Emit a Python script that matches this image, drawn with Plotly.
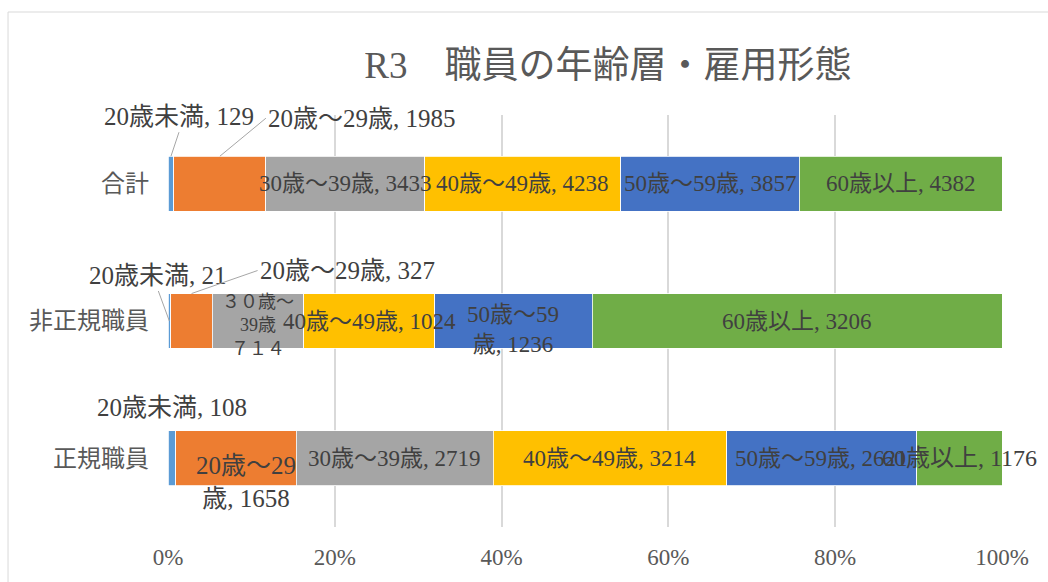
import plotly.graph_objects as go

# ---- data ----
categories = ['正規職員', '非正規職員', '合計']
series_names = ['20歳未満', '20歳～29歳', '30歳～39歳', '40歳～49歳', '50歳～59歳', '60歳以上']
seiki = [108, 1658, 2719, 3214, 2621, 1176]
hiseiki = [21, 327, 714, 1024, 1236, 3206]
goukei = [129, 1985, 3433, 4238, 3857, 4382]
x_tick_values = [0, 20, 40, 60, 80, 100]
x_tick_labels = ['0%', '20%', '40%', '60%', '80%', '100%']
title_text = 'R3\u3000職員の年齢層・雇用形態'

rows = [seiki, hiseiki, goukei]  # same order as categories
colors = ['#5B9BD5', '#ED7D31', '#A5A5A5', '#FFC000', '#4472C4', '#70AD47']

# label text overrides (as wrapped in the original)
text_override = {
    (1, 2): '３０歳～<br>39歳<br>７１４',
    (1, 4): '50歳～59<br>歳, 1236',
    (0, 1): '20歳～29<br>歳, 1658',
}

FONT = "'Liberation Serif', 'Noto Sans CJK JP', serif"
TXT = '#404040'
LEADER = '#A6A6A6'

# label placement styles
place = {
    (2, 0): dict(dy=0.2, arrow=True, ax=8, ay=-24, yanchor='bottom', size=25),
    (2, 1): dict(dy=0.2, arrow=True, ax=46, ay=-38, xanchor='left', size=25),
    (1, 0): dict(dy=0.0, arrow=True, ax=-11, ay=-30, yanchor='bottom', size=25),
    (1, 1): dict(dy=0.2, arrow=True, ax=66, ay=-23, xanchor='left', size=25),
    (1, 2): dict(size=18, yshift=-4),
    (1, 4): dict(yshift=-8),
    (0, 0): dict(dy=0.2, yanchor='bottom', yshift=8, size=25),
    (0, 1): dict(xshift=10, yshift=-24, size=25),
    (0, 5): dict(size=24),
}

fig = go.Figure()
for si, name in enumerate(series_names):
    fig.add_trace(go.Bar(
        y=categories,
        x=[r[si] for r in rows],
        name=name,
        orientation='h',
        marker=dict(color=colors[si], line=dict(color='white', width=0.8)),
        hoverinfo='name+x',
    ))

annotations = []
for ri, row in enumerate(rows):
    total = sum(row)
    cum = 0.0
    for si, v in enumerate(row):
        pct = v / total * 100
        mid = cum + pct / 2
        cum += pct
        txt = text_override.get((ri, si), f'{series_names[si]}, {v}')
        p = place.get((ri, si), {})
        a = dict(
            x=mid, y=ri + p.get('dy', 0.0), xref='x', yref='y',
            text=txt, font=dict(family=FONT, size=p.get('size', 23), color=TXT),
            xanchor=p.get('xanchor', 'center'), yanchor=p.get('yanchor', 'middle'),
            xshift=p.get('xshift', 0), yshift=p.get('yshift', 0),
            align='center',
        )
        if p.get('arrow'):
            a.update(showarrow=True, arrowhead=0, arrowwidth=1, arrowcolor=LEADER,
                     ax=p['ax'], ay=p['ay'], standoff=0, startstandoff=0)
        else:
            a.update(showarrow=False)
        annotations.append(a)

fig.update_layout(
    width=1048, height=582,
    barmode='stack', barnorm='percent', bargap=0.6,
    showlegend=False,
    paper_bgcolor='white', plot_bgcolor='white',
    margin=dict(l=168, r=46, t=115, b=55, autoexpand=False),
    font=dict(family=FONT, color='#595959'),
    title=dict(text=title_text, x=0.58, xref='container', xanchor='center',
               y=1 - 65 / 582, yref='container', yanchor='middle', automargin=False,
               font=dict(family=FONT, size=37, color='#595959')),
    annotations=annotations,
    shapes=[dict(type='rect', xref='paper', yref='paper',
                 x0=-0.1918, x1=1.07, y0=-0.18, y1=1.25,
                 line=dict(color='#D9D9D9', width=1), fillcolor='rgba(0,0,0,0)',
                 layer='below')],
)
fig.update_xaxes(range=[0, 100], tickvals=x_tick_values, ticktext=x_tick_labels,
                 showgrid=True, gridcolor='#D9D9D9', gridwidth=1.5,
                 zeroline=False, showline=False, ticks='', automargin=False,
                 tickfont=dict(family=FONT, size=23, color='#595959'),
                 ticklabelstandoff=14)
fig.update_yaxes(categoryorder='array', categoryarray=categories,
                 range=[-0.5, len(categories) - 0.5],
                 showgrid=False, zeroline=False, showline=False, ticks='', automargin=False,
                 tickfont=dict(family=FONT, size=24, color='#595959'),
                 ticklabelstandoff=18)

fig.write_html('out.html', config={'displayModeBar': False},
               post_script="document.body.style.margin='0';")
